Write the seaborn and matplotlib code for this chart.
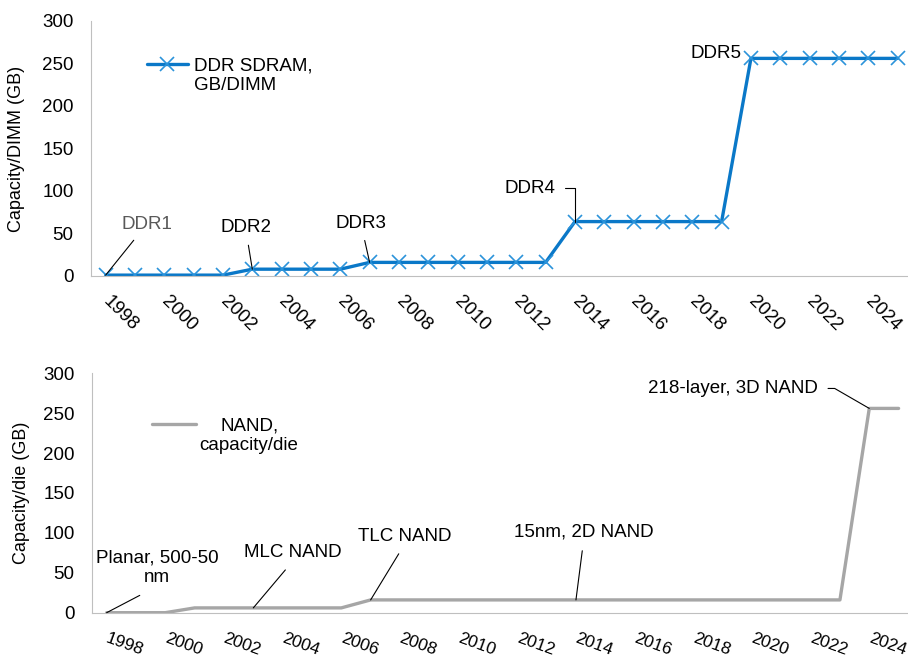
import numpy as np
import pandas as pd
import matplotlib
matplotlib.use("Agg")
import matplotlib.pyplot as plt
import seaborn as sns

# donnees
years = list(range(1998, 2026))
ddr_gb = [1, 1, 1, 1, 1, 8, 8, 8, 8, 16, 16, 16, 16, 16, 16, 16,
          64, 64, 64, 64, 64, 64, 256, 256, 256, 256, 256, 256]
nand_gb = [0, 0, 0, 6, 6, 6, 6, 6, 6] + [16] * 17 + [256, 256]
tick_years = years[::2]

ddr_labels = ["DDR1", "DDR2", "DDR3", "DDR4", "DDR5"]
ddr_years = [1998, 2003, 2007, 2014, 2020]
nand_labels = ["Planar, 500-50\nnm", "MLC NAND", "TLC NAND", "15nm, 2D NAND", "218-layer, 3D NAND"]
nand_years = [1998, 2003, 2007, 2014, 2024]

df = pd.DataFrame({"pos": range(len(years)), "year": years, "ddr": ddr_gb, "nand": nand_gb})

sns.set_style("white")
plt.rcParams["font.family"] = ["Liberation Sans", "DejaVu Sans"]
plt.rcParams["text.color"] = "black"
plt.rcParams["axes.labelcolor"] = "black"
plt.rcParams["xtick.color"] = "black"
plt.rcParams["ytick.color"] = "black"
fs = 13.5
grey = "#bfbfbf"
blue = "#0a78c8"

fig = plt.figure(figsize=(9.08, 6.62), dpi=100)
ax1 = fig.add_axes([0.1002, 0.5831, 0.9045, 0.3852])
ax2 = fig.add_axes([0.1013, 0.0745, 0.9045, 0.3616])

sns.lineplot(data=df, x="pos", y="ddr", ax=ax1, color=blue, lw=2.4,
             marker="x", markersize=9.5, mew=1.2, mec="#2b93da", label="DDR SDRAM,\nGB/DIMM")
sns.lineplot(data=df, x="pos", y="nand", ax=ax2, color="#a6a6a6", lw=2.4,
             label="NAND,\ncapacity/die")


def style_axis(ax, rot, pad_x, xsize):
    ax.set_xlim(-0.5, 27.5)
    ax.set_ylim(0, 300)
    ax.set_yticks(range(0, 301, 50))
    ax.set_yticks(range(0, 301, 10), minor=True)
    ax.set_xticks([years.index(y) for y in tick_years])
    ax.set_xticklabels(tick_years)
    ax.set_xticks(np.arange(-0.5, 28, 1), minor=True)
    ax.tick_params(axis="x", which="major", length=0, pad=pad_x, labelsize=xsize, labelrotation=rot)
    ax.tick_params(axis="x", which="minor", direction="in", length=5, color=grey)
    ax.tick_params(axis="y", which="both", direction="in", length=5, color=grey, pad=12.5, labelsize=fs)
    for lab in ax.get_xticklabels():
        lab.set_ha("left")
        lab.set_va("center")
        lab.set_rotation_mode("anchor")
    sns.despine(ax=ax)
    ax.spines["left"].set_color(grey)
    ax.spines["bottom"].set_color(grey)
    ax.set_xlabel("")


style_axis(ax1, -45, 16.5, fs)
style_axis(ax2, -20, 18, 12.5)

ax1.set_ylabel("Capacity/DIMM (GB)", fontsize=13)
ax1.yaxis.set_label_coords(-0.080, 0.5)
ax2.set_ylabel("Capacity/die (GB)", fontsize=13)
ax2.yaxis.set_label_coords(-0.076, 0.5)

# legendes
leg1 = ax1.legend(loc="upper left", bbox_to_anchor=(0.068, 0.858), frameon=False, fontsize=fs,
                  handlelength=2.2, handletextpad=0.3, borderpad=0, borderaxespad=0)
leg2 = ax2.legend(loc="upper left", bbox_to_anchor=(0.073, 0.815), frameon=False, fontsize=fs,
                  handlelength=2.35, handletextpad=0.2, borderpad=0, borderaxespad=0)
leg2.get_texts()[0].set_multialignment("center")
for leg in (leg1, leg2):
    h = leg.get_lines()[0]
    h.set_ydata(np.asarray(h.get_ydata()) + 0.62 * fs)

arrow = dict(arrowstyle="-", color="black", lw=0.8)

# annotations DDR
txt_pos = [(1.4, 61), (4.77, 56.5), (8.7, 62), (14.46, 103.5), (20.8, 262)]
for lab, yr, (tx, ty) in zip(ddr_labels, ddr_years, txt_pos):
    i = years.index(yr)
    col = "#595959" if lab == "DDR1" else "black"
    if lab == "DDR5":
        ax1.text(tx, ty, lab, ha="center", va="center", fontsize=fs, color=col)
    elif lab == "DDR4":
        ax1.annotate(lab, xy=(i, ddr_gb[i]), xytext=(tx, ty), ha="center", va="center", fontsize=fs,
                     color=col, arrowprops=dict(arrow, relpos=(1, 0.5), shrinkA=5, shrinkB=0,
                                                connectionstyle="angle,angleA=0,angleB=90,rad=0"))
    else:
        ax1.annotate(lab, xy=(i, ddr_gb[i]), xytext=(tx, ty), ha="center", va="center", fontsize=fs,
                     color=col, arrowprops=dict(arrow, shrinkA=4, shrinkB=0))

# annotations NAND
txt_pos = [(1.72, 56), (6.34, 75), (10.15, 96), (16.26, 101), (21.35, 281)]
shr = [9, 5, 5, 5, 5]
for lab, yr, (tx, ty), s in zip(nand_labels, nand_years, txt_pos, shr):
    i = years.index(yr)
    if yr == 2024:
        ax2.annotate(lab, xy=(i, nand_gb[i]), xytext=(tx, ty), ha="center", va="center", fontsize=fs,
                     arrowprops=dict(arrow, relpos=(1, 0.5), shrinkA=5, shrinkB=0,
                                     connectionstyle="angle,angleA=0,angleB=150,rad=0"))
    else:
        ax2.annotate(lab, xy=(i, nand_gb[i]), xytext=(tx, ty), ha="center", va="center", fontsize=fs,
                     arrowprops=dict(arrow, relpos=(0.5, 0), shrinkA=s, shrinkB=0))

fig.savefig("out.png", dpi=100)
